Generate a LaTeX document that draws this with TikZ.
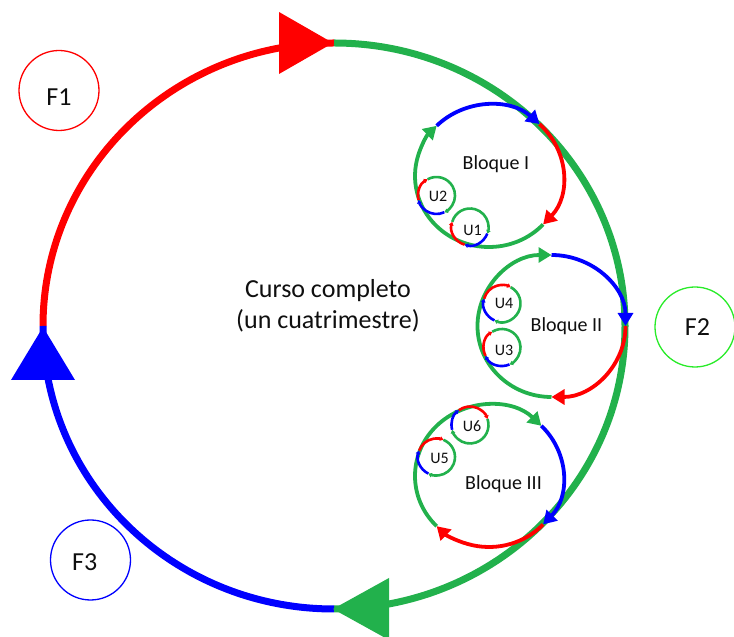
\documentclass[tikz,border=0pt]{standalone}
\usepackage{fontspec}
\setmainfont{Carlito}
\usetikzlibrary{arrows.meta}

\definecolor{cred}{RGB}{255,0,0}
\definecolor{cblue}{RGB}{0,0,255}
\definecolor{cgreen}{RGB}{34,177,76}
\definecolor{clime}{RGB}{40,235,40}
\definecolor{ink}{RGB}{15,15,15}

\tikzset{
  coursearc/.style={line width=7pt},
  blockarc/.style={line width=3.8pt, -{Triangle[length=13pt,width=15pt]}},
  unitarc/.style={line width=2.6pt, -{Triangle[length=3.5pt,width=4.5pt]}},
  phasering/.style={circle, draw, line width=1.3pt, minimum size=80pt, inner sep=0pt},
  bigtext/.style={text=ink, inner sep=0pt, font=\fontsize{26}{31}\selectfont},
  blocktext/.style={text=ink, inner sep=0pt, font=\fontsize{20}{24}\selectfont},
  unittext/.style={text=ink, inner sep=0pt, font=\fontsize{16}{19}\selectfont},
}

% arc of a ring: style, centre, start angle, end angle, x radius, y radius
\newcommand\ringarc[6]{%
  \draw[#1] (#2) ++(#3:#5 and #6) arc[start angle=#3, end angle=#4, x radius=#5, y radius=#6];}

\begin{document}
\begin{tikzpicture}[x=1pt, y=1pt]
\useasboundingbox (0,0) rectangle (734,637);

% ---- the whole course ----
\coordinate (C) at (334,311);
\ringarc{coursearc, cred}{C}{180}{90}{291}{283}
\ringarc{coursearc, cgreen}{C}{90}{-90}{291}{283}
\ringarc{coursearc, cblue}{C}{-90}{-180}{291}{283}
\fill[cred]   (333,594) -- (279,625) -- (279,563) -- cycle;
\fill[cgreen] (333,28)  -- (389,59)  -- (389,-3)  -- cycle;
\fill[cblue]  (43,310)  -- (11,257)  -- (75,257)  -- cycle;

\node[bigtext, anchor=base] (curso) at (328,339) {Curso completo};
\node[bigtext, anchor=base] (cuatri) at (328,308) {(un cuatrimestre)};

% ---- phases ----
\node[phasering, draw=cred]  (F1) at (59,546.5) {};
\node[phasering, draw=clime] (F2) at (695,310) {};
\node[phasering, draw=cblue] (F3) at (90.5,77) {};
\node[bigtext] (F1t) at (59,540.3) {F1};
\node[bigtext] (F2t) at (697.5,309.5) {F2};
\node[bigtext] (F3t) at (84.7,75.3) {F3};

% ---- blocks ----
\coordinate (B1) at (489,461);
\coordinate (B2) at (551.5,311);
\coordinate (B3) at (489,161);

\ringarc{blockarc, cgreen}{B1}{-43}{-225}{74}{71}
\ringarc{blockarc, cblue}{B1}{135}{47}{74}{71}
\ringarc{blockarc, cred}{B1}{47}{-43}{74}{71}

\ringarc{blockarc, cgreen}{B2}{-90}{-270}{74}{71}
\ringarc{blockarc, cblue}{B2}{90}{0}{74}{71}
\ringarc{blockarc, cred}{B2}{0}{-90}{74}{71}

\ringarc{blockarc, cgreen}{B3}{-135}{-315}{74}{71}
\ringarc{blockarc, cblue}{B3}{45}{-43}{74}{71}
\ringarc{blockarc, cred}{B3}{-43}{-135}{74}{71}

\node[blocktext, anchor=base] (B1t) at (496,467) {Bloque I};
\node[blocktext, anchor=base] (B2t) at (566.5,305) {Bloque II};
\node[blocktext, anchor=base] (B3t) at (503.5,147) {Bloque III};

% ---- units ----
\coordinate (U1) at (470,410);
\coordinate (U2) at (436.5,441.5);
\coordinate (U3) at (502,289.5);
\coordinate (U4) at (502,333.5);
\coordinate (U5) at (436.5,180);
\coordinate (U6) at (470,212);

\ringarc{unitarc, cgreen}{U1}{164}{-21}{18.5}{18.5}
\ringarc{unitarc, cblue}{U1}{-21}{-107}{18.5}{18.5}
\ringarc{unitarc, cred}{U1}{253}{164}{18.5}{18.5}

\ringarc{unitarc, cgreen}{U2}{119}{-65}{18.5}{18.5}
\ringarc{unitarc, cblue}{U2}{-65}{-166}{18.5}{18.5}
\ringarc{unitarc, cred}{U2}{194}{119}{18.5}{18.5}

\ringarc{unitarc, cgreen}{U3}{122}{-66}{18.5}{18.5}
\ringarc{unitarc, cblue}{U3}{-66}{-153}{18.5}{18.5}
\ringarc{unitarc, cred}{U3}{207}{122}{18.5}{18.5}

\ringarc{unitarc, cgreen}{U4}{62}{-114}{18.5}{18.5}
\ringarc{unitarc, cblue}{U4}{246}{165}{18.5}{18.5}
\ringarc{unitarc, cred}{U4}{165}{62}{18.5}{18.5}

\ringarc{unitarc, cgreen}{U5}{68}{-116}{18.5}{18.5}
\ringarc{unitarc, cblue}{U5}{244}{160}{18.5}{18.5}
\ringarc{unitarc, cred}{U5}{160}{68}{18.5}{18.5}

\ringarc{unitarc, cgreen}{U6}{19}{-165}{18.5}{18.5}
\ringarc{unitarc, cblue}{U6}{195}{127}{18.5}{18.5}
\ringarc{unitarc, cred}{U6}{127}{19}{18.5}{18.5}

\node[unittext] (U1t) at (472.5,406.7) {U1};
\node[unittext] (U2t) at (438,441) {U2};
\node[unittext] (U3t) at (504,287) {U3};
\node[unittext] (U4t) at (504,333.2) {U4};
\node[unittext] (U5t) at (439.5,179) {U5};
\node[unittext] (U6t) at (472,211) {U6};
\end{tikzpicture}
\end{document}
